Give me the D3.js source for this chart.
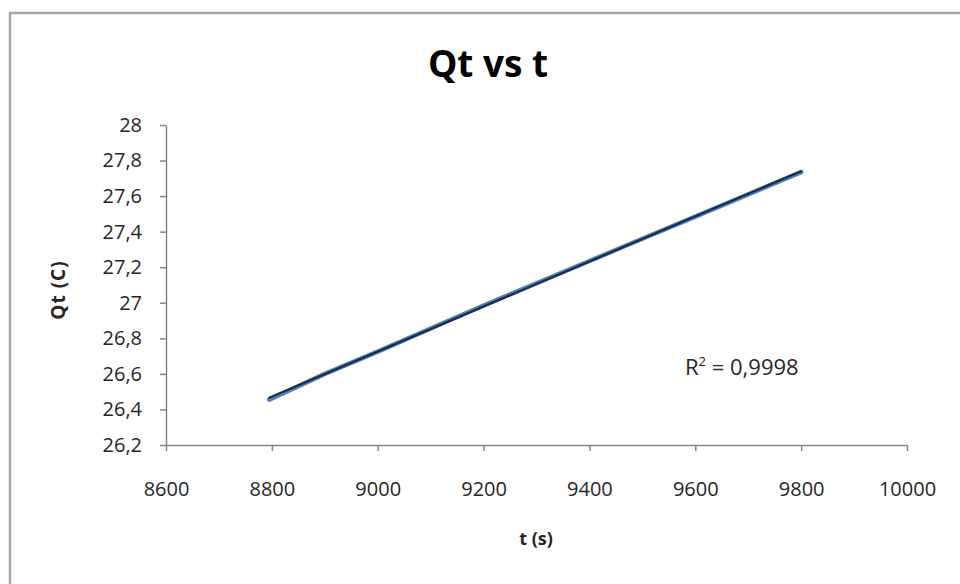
<!DOCTYPE html>
<html><head><meta charset="utf-8">
<script src="https://cdn.jsdelivr.net/npm/d3@7"></script>
<style>body{margin:0;background:#fff}svg{display:block}</style>
</head><body><svg id="c" width="960" height="584"></svg>
<script>
const tValues = [8795, 8900, 9000, 9100, 9200, 9300, 9400, 9500, 9600, 9700, 9800];
const qtValues = [26.455, 26.60, 26.725, 26.855, 26.985, 27.11, 27.235, 27.36, 27.485, 27.61, 27.735];
const xTicks = [8600, 8800, 9000, 9200, 9400, 9600, 9800, 10000];
const yTicks = [26.2, 26.4, 26.6, 26.8, 27, 27.2, 27.4, 27.6, 27.8, 28];
const titleText = "Qt vs t";
const xLabel = "t (s)";
const yLabel = "Qt (C)";
const r2Text = "0,9998";

const svg = d3.select("#c");
const font = "'Open Sans', sans-serif";
const axisColor = "#868686";

// frame (cropped: only top & left edges visible)
svg.append("rect").attr("x", 10).attr("y", 13).attr("width", 1000).attr("height", 1000)
  .attr("fill", "none").attr("stroke", "#a6a6a6").attr("stroke-width", 2.5);

const x = d3.scaleLinear().domain([8600, 10000]).range([166, 907]);
const y = d3.scaleLinear().domain([26.2, 28]).range([445, 125]);
const fmt = d => d3.format("")(Math.round(d * 10) / 10).replace(".", ",");

const xAxis = svg.append("g").attr("transform", "translate(0,445)")
  .call(d3.axisBottom(x).tickValues(xTicks).tickSize(6).tickPadding(31).tickFormat(d3.format("d")));
const yAxis = svg.append("g").attr("transform", "translate(166,0)")
  .call(d3.axisLeft(y).tickValues(yTicks).tickSize(6).tickPadding(18).tickFormat(fmt));
[xAxis, yAxis].forEach(g => {
  g.select(".domain").attr("stroke", axisColor).attr("stroke-width", 1.5);
  g.selectAll(".tick line").attr("stroke", axisColor).attr("stroke-width", 1.5);
  g.selectAll(".tick text").attr("fill", "#262626").style("font-family", font)
    .style("font-size", "20px");
});
xAxis.select(".domain").attr("d", "M166.5,0.5H907.5");
yAxis.select(".domain").attr("d", "M0.5,445.5V125.5");

// data series line (blue) and linear trendline (dark)
const line = d3.line().x((d, i) => x(tValues[i])).y(d => y(d));
svg.append("path").datum(qtValues).attr("d", line)
  .attr("fill", "none").attr("stroke", "#4F81BD").attr("stroke-width", 4.5)
  .attr("stroke-linecap", "round").attr("stroke-linejoin", "round");

const n = tValues.length;
const mx = d3.mean(tValues), my = d3.mean(qtValues);
const slope = d3.sum(tValues, (t, i) => (t - mx) * (qtValues[i] - my)) / d3.sum(tValues, t => (t - mx) ** 2);
const icpt = my - slope * mx;
const trend = [tValues[0], tValues[n - 1]];
svg.append("path").datum(trend)
  .attr("d", d3.line().x(t => x(t)).y(t => y(icpt + slope * t)))
  .attr("fill", "none").attr("stroke", "#1c2b47").attr("stroke-width", 2.2)
  .attr("stroke-linecap", "round");

// title
svg.append("text").attr("x", 488).attr("y", 77).attr("text-anchor", "middle")
  .style("font-family", font).style("font-weight", "bold").style("font-size", "37px")
  .attr("fill", "#000").text(titleText);

// axis labels
svg.append("text").attr("x", 536).attr("y", 545).attr("text-anchor", "middle")
  .style("font-family", font).style("font-weight", "bold").style("font-size", "18px")
  .attr("fill", "#262626").text(xLabel);
svg.append("text").attr("transform", "translate(65,290) rotate(-90)").attr("text-anchor", "middle")
  .style("font-family", font).style("font-weight", "bold").style("font-size", "19px")
  .style("letter-spacing", "1px").attr("fill", "#262626").text(yLabel);

// R² label
const r2 = svg.append("text").attr("x", 685).attr("y", 375)
  .style("font-family", font).style("font-size", "22px").attr("fill", "#262626");
r2.append("tspan").text("R");
r2.append("tspan").attr("dy", -9).style("font-size", "13px").text("2");
r2.append("tspan").attr("dy", 9).text(" = " + r2Text);
</script></body></html>
